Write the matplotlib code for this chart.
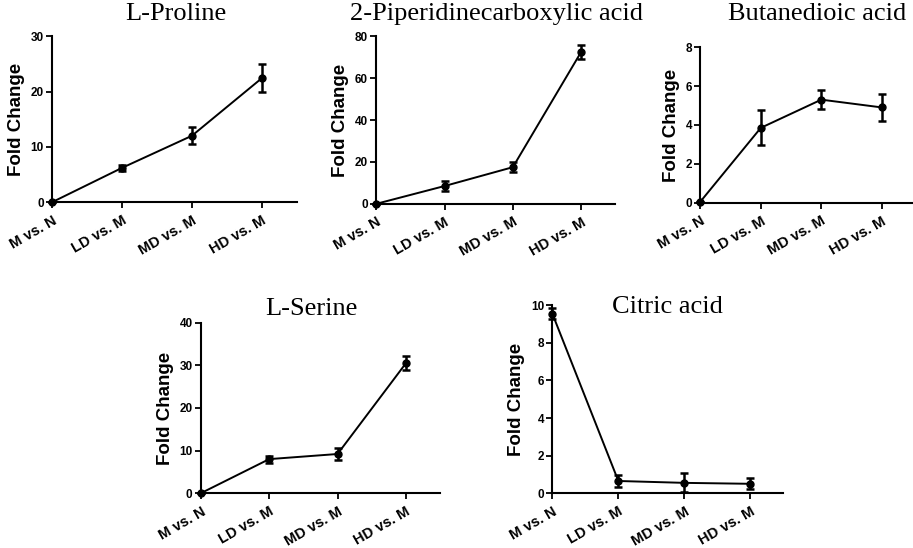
import matplotlib.pyplot as plt

groups = ['M vs. N', 'LD vs. M', 'MD vs. M', 'HD vs. M']

proline = [0.0, 6.2, 12.0, 22.4]
proline_err = [0.0, 0.6, 1.5, 2.5]

pipecolic = [0.0, 8.5, 17.5, 72.5]
pipecolic_err = [0.0, 2.5, 2.5, 3.5]

butanedioic = [0.05, 3.85, 5.3, 4.9]
butanedioic_err = [0.0, 0.9, 0.5, 0.7]

serine = [0.0, 8.0, 9.2, 30.5]
serine_err = [0.0, 0.8, 1.5, 1.6]

citric = [9.55, 0.65, 0.55, 0.5]
citric_err = [0.3, 0.3, 0.5, 0.3]

panels = [
    # title, values, errors, y ticks, axes rect, title position
    ('L-Proline', proline, proline_err, [0, 10, 20, 30],
     [0.057, 0.631, 0.268, 0.303], (0.193, 0.975)),
    ('2-Piperidinecarboxylic acid', pipecolic, pipecolic_err, [0, 20, 40, 60, 80],
     [0.412, 0.628, 0.262, 0.306], (0.544, 0.975)),
    ('Butanedioic acid', butanedioic, butanedioic_err, [0, 2, 4, 6, 8],
     [0.767, 0.630, 0.232, 0.284], (0.895, 0.975)),
    ('L-Serine', serine, serine_err, [0, 10, 20, 30, 40],
     [0.220, 0.100, 0.262, 0.311], (0.341, 0.436)),
    ('Citric acid', citric, citric_err, [0, 2, 4, 6, 8, 10],
     [0.605, 0.100, 0.253, 0.343], (0.731, 0.440)),
]

fig = plt.figure(figsize=(9.13, 5.48), dpi=100)
plt.rcParams['font.family'] = ['Liberation Sans', 'DejaVu Sans']

for title, vals, errs, yticks, rect, tpos in panels:
    ax = fig.add_axes(rect)
    x = range(len(groups))
    ax.errorbar(x, vals, yerr=errs, color='black', marker='o', markersize=5,
                linewidth=1.4, elinewidth=1.8, capsize=3, capthick=1.8,
                clip_on=False, zorder=3)
    ax.set_xlim(0, 3.5)
    ax.set_ylim(0, yticks[-1])
    ax.set_yticks(yticks)
    ax.set_xticks(list(x))
    ax.set_xticklabels(groups, rotation=30, ha='right', va='top',
                       rotation_mode='anchor', fontsize=10.5, fontweight='bold')
    for lab in ax.get_yticklabels():
        lab.set_fontsize(8.5)
        lab.set_fontweight('bold')
    for pos in ('top', 'right'):
        ax.spines[pos].set_visible(False)
    for pos in ('left', 'bottom'):
        ax.spines[pos].set_linewidth(1.5)
    ax.tick_params(axis='both', direction='out', length=4, width=1.3, pad=2)
    ax.tick_params(axis='x', pad=4)
    ax.set_ylabel('Fold Change', fontsize=13.5, fontweight='bold', labelpad=4)
    fig.text(tpos[0], tpos[1], title, ha='center', va='center',
             family='Liberation Serif', fontsize=19)

fig.savefig('out.png', dpi=100)
